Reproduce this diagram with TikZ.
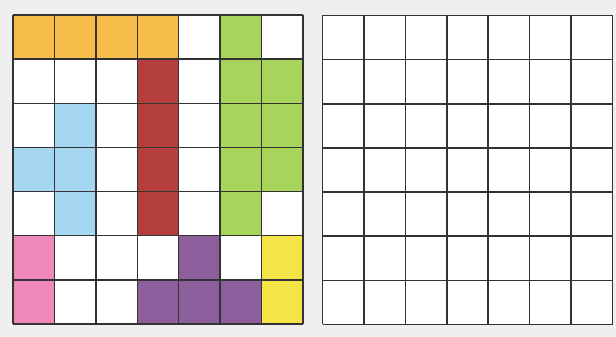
\documentclass[tikz,border=0pt]{standalone}
\usepackage{xcolor}
\definecolor{paper}{HTML}{EFEFEF}
\definecolor{colW}{HTML}{FFFFFF}
\definecolor{colO}{HTML}{F7BE4C}
\definecolor{colG}{HTML}{A9D45C}
\definecolor{colR}{HTML}{B53F3C}
\definecolor{colB}{HTML}{A5D7F3}
\definecolor{colP}{HTML}{EE88BA}
\definecolor{colV}{HTML}{8D5E9C}
\definecolor{colY}{HTML}{F5E448}

\begin{document}
\begin{tikzpicture}[x=1pt, y=-1pt,
    gridline/.style={draw=black!80, line width=1.5pt},
    cw/.store in=\cw, ch/.store in=\ch, cw=41.43, ch=44.14]
  \fill[paper] (0,0) rectangle (616,337);
  % left board: coloured pieces
  \begin{scope}[shift={(13,15)}]
    \foreach \row [count=\r from 0] in {{O,O,O,O,W,G,W},{W,W,W,R,W,G,G},
        {W,B,W,R,W,G,G},{B,B,W,R,W,G,G},{W,B,W,R,W,G,W},
        {P,W,W,W,V,W,Y},{P,W,W,V,V,V,Y}}
      \foreach \c [count=\k from 0] in \row
        \fill[col\c] (\k*\cw,\r*\ch) rectangle ++(\cw,\ch);
    \foreach \i in {0,...,7} {
      \draw[gridline] (\i*\cw,0) -- (\i*\cw,7*\ch);
      \draw[gridline] (0,\i*\ch) -- (7*\cw,\i*\ch);
    }
  \end{scope}
  % right board: empty
  \begin{scope}[shift={(322.5,15.5)}]
    \fill[colW] (0,0) rectangle (7*\cw,7*\ch);
    \foreach \i in {0,...,7} {
      \draw[gridline] (\i*\cw,0) -- (\i*\cw,7*\ch);
      \draw[gridline] (0,\i*\ch) -- (7*\cw,\i*\ch);
    }
  \end{scope}
\end{tikzpicture}
\end{document}
